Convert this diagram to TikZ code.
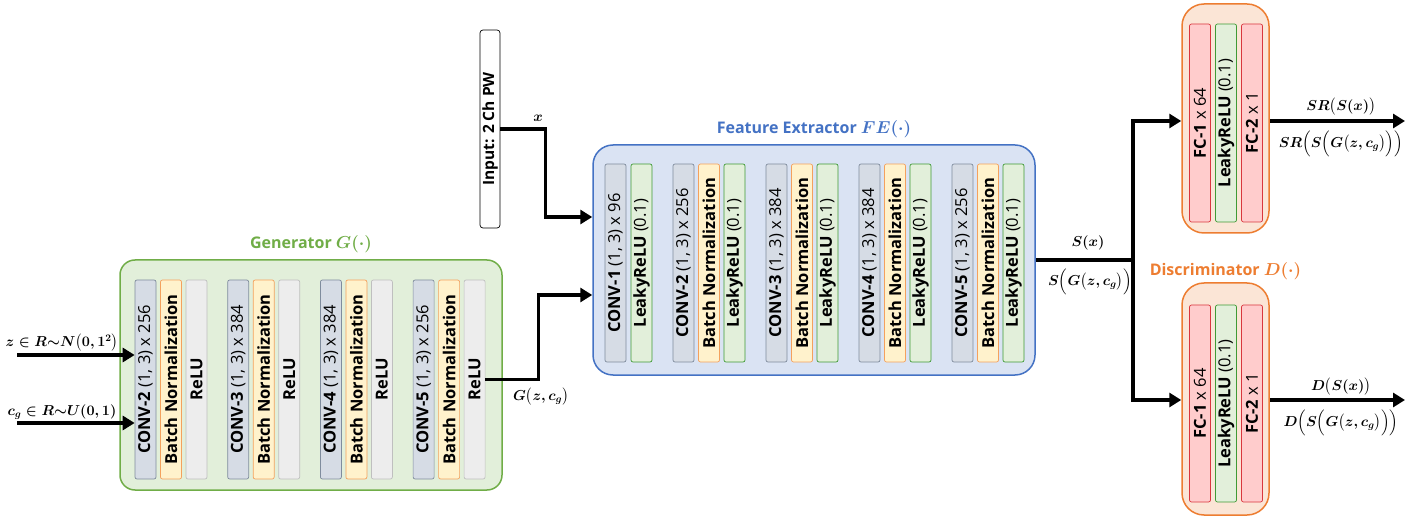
\documentclass[tikz,border=0pt]{standalone}
\usepackage{amsmath,bm}
\usepackage[no-math]{fontspec}
\setmainfont{Open Sans}
\usetikzlibrary{arrows.meta,positioning}

\definecolor{genfill}{HTML}{E2EFDA}
\definecolor{genline}{HTML}{70AD47}
\definecolor{fefill}{HTML}{DAE3F3}
\definecolor{feline}{HTML}{4472C4}
\definecolor{disfill}{HTML}{FBE5D6}
\definecolor{disline}{HTML}{ED7D31}
\definecolor{convfill}{HTML}{D6DCE5}
\definecolor{convline}{HTML}{7F8C9D}
\definecolor{bnfill}{HTML}{FFF2CC}
\definecolor{bnline}{HTML}{F4A15D}
\definecolor{relufill}{HTML}{EDEDED}
\definecolor{reluline}{HTML}{BFBFBF}
\definecolor{lrfill}{HTML}{E2EFDA}
\definecolor{lrline}{HTML}{3F9A35}
\definecolor{fcfill}{HTML}{FFCCCC}
\definecolor{fcline}{HTML}{D9363E}

\newcommand\blkfont{\fontsize{16.5}{18}\selectfont}
\newcommand\mathlbl{\fontsize{14.5}{16}\selectfont\boldmath}

\begin{document}
\begin{tikzpicture}[x=1pt, y=-1pt,
  blk/.style={rounded corners=2pt, rotate=90, minimum width=198pt, minimum height=21pt, inner sep=0pt, line width=0.7pt, font=\blkfont},
  convblk/.style={blk, fill=convfill, draw=convline},
  bnblk/.style={blk, fill=bnfill, draw=bnline},
  relublk/.style={blk, fill=relufill, draw=reluline},
  lrblk/.style={blk, fill=lrfill, draw=lrline},
  fcblk/.style={blk, fill=fcfill, draw=fcline},
  group/.style={draw, line width=1.5pt, inner sep=0pt},
  title/.style={font=\fontsize{16}{18}\selectfont\bfseries\boldmath, inner sep=0pt},
  lbl/.style={font=\mathlbl, inner sep=0pt},
  wire/.style={line width=3.5pt},
  flow/.style={wire, -{Triangle[length=12pt, width=14pt]}}]
\useasboundingbox (0,0) rectangle (1407,518);

% Generator
\node[group, rounded corners=15pt, fill=genfill, draw=genline, minimum width=382pt, minimum height=230pt] (gen) at (311,375) {};
\node[title, text=genline, above=6pt of gen] (gentitle) {Generator $G(\cdot)$};
\foreach \k/\idx/\nch in {0/2/256, 1/3/384, 2/4/384, 3/5/256} {
  \node[convblk, minimum width=199pt] (gc\idx) at (145.5+92.7*\k, 379.5) {\textbf{CONV-\idx} (1, 3) x \nch};
  \node[bnblk, minimum width=199pt] (gb\idx) at (171+92.7*\k, 379.5) {\textbf{Batch Normalization}};
  \node[relublk, minimum width=199pt] (gr\idx) at (196.5+92.7*\k, 379.5) {\textbf{ReLU}};
}

% Feature extractor
\node[group, rounded corners=20pt, fill=fefill, draw=feline, minimum width=442pt, minimum height=230pt] (fe) at (814,260) {};
\node[title, text=feline, above=6pt of fe] (fetitle) {Feature Extractor $FE(\cdot)$};
\node[convblk] (fec1) at (615.5,263) {\textbf{CONV-1} (1, 3) x 96};
\node[lrblk] (fel1) at (641.5,263) {\textbf{LeakyReLU} (0.1)};
\foreach \k/\idx/\nch in {0/2/256, 1/3/384, 2/4/384, 3/5/256} {
  \node[convblk] (fec\idx) at (683.5+93*\k, 263) {\textbf{CONV-\idx} (1, 3) x \nch};
  \node[bnblk] (feb\idx) at (709+93*\k, 263) {\textbf{Batch Normalization}};
  \node[lrblk] (fel\idx) at (734.5+93*\k, 263) {\textbf{LeakyReLU} (0.1)};
}

% Discriminator heads
\node[group, rounded corners=22pt, fill=disfill, draw=disline, minimum width=87pt, minimum height=229pt] (sr) at (1225.5,118.5) {};
\node[fcblk] (sra) at (1200,123) {\textbf{FC-1} x 64};
\node[lrblk] (srb) at (1226,123) {\textbf{LeakyReLU} (0.1)};
\node[fcblk] (src) at (1252,123) {\textbf{FC-2} x 1};
\node[group, rounded corners=22pt, fill=disfill, draw=disline, minimum width=87pt, minimum height=232pt] (dis) at (1225.5,399) {};
\node[title, text=disline, above=2pt of dis] (distitle) {Discriminator $D(\cdot)$};
\node[fcblk, minimum width=197pt] (disa) at (1200,403.5) {\textbf{FC-1} x 64};
\node[lrblk, minimum width=197pt] (disb) at (1226,403.5) {\textbf{LeakyReLU} (0.1)};
\node[fcblk, minimum width=197pt] (disc) at (1252,403.5) {\textbf{FC-2} x 1};

% Input
\node[blk, draw=black, fill=white, rounded corners=3pt, minimum height=20pt, font=\fontsize{15.5}{17}\selectfont\bfseries] (inp) at (490,129) {Input: 2 Ch PW};

% Connectors
\coordinate (zin) at (17,355);
\coordinate (cin) at (17,423);
\draw[flow] (zin) -- (zin -| gc2.north);
\draw[flow] (cin) -- (cin -| gc2.north);
\node[lbl] (zlbl) at (62,343) {$z\in R{\sim}N\big(0,1^2\big)$};
\node[lbl] (clbl) at (62,412) {$c_g\in R{\sim}U(0,1)$};

\draw[flow] (inp.south) -| ([xshift=-47pt, yshift=43pt]fe.west) -- ([yshift=43pt]fe.west);
\node[lbl] (xlbl) at (538,118) {$x$};
\draw[flow] (gr5.south) -| ([xshift=-54pt, yshift=-35pt]fe.west) -- ([yshift=-35pt]fe.west);
\node[lbl] (glbl) at (541,397) {$G\big(z,c_g\big)$};

\coordinate (split) at (1133,260);
\coordinate (srout) at (1405,121);
\coordinate (dout) at (1405,400);
\draw[wire] (fe.east) -- (split);
\draw[flow] (split) |- (srout -| sr.west);
\draw[flow] (split) |- (dout -| dis.west);
\node[lbl] (sxlbl) at (1088,243) {$S(x)$};
\node[lbl] (sglbl) at (1090,282) {$S\Big(G\big(z,c_g\big)\Big)$};

\draw[flow] (srout -| sr.east) -- (srout);
\draw[flow] (dout -| dis.east) -- (dout);
\node[lbl] (srxlbl) at (1341,107) {$SR\big(S(x)\big)$};
\node[lbl] (srglbl) at (1341,144) {$SR\Big(S\Big(G\big(z,c_g\big)\Big)\Big)$};
\node[lbl] (dxlbl) at (1341,387) {$D\big(S(x)\big)$};
\node[lbl] (dglbl) at (1341,423) {$D\Big(S\Big(G\big(z,c_g\big)\Big)\Big)$};
\end{tikzpicture}
\end{document}
